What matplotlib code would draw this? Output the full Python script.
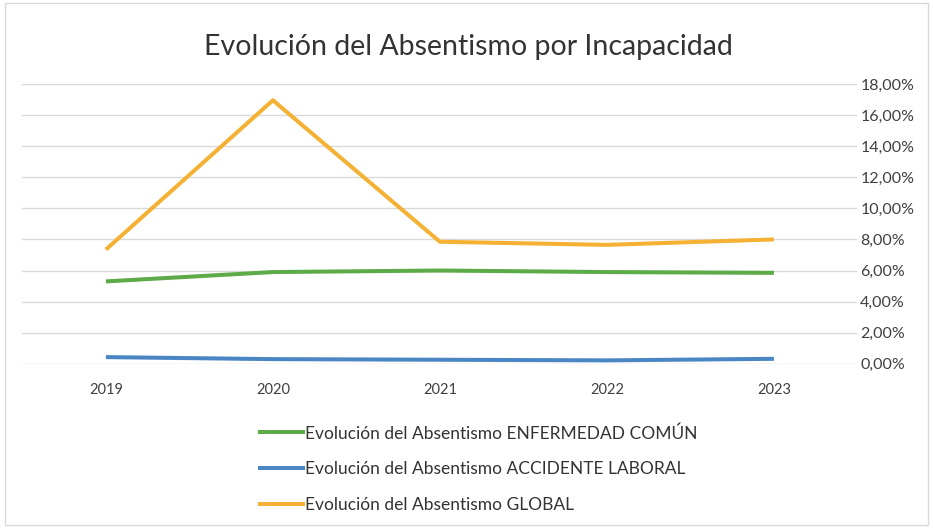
import matplotlib
matplotlib.use("Agg")
import matplotlib.pyplot as plt
from matplotlib.ticker import FuncFormatter, MultipleLocator
from matplotlib.patches import Rectangle

years = ["2019", "2020", "2021", "2022", "2023"]
enfermedad_comun = [5.3, 5.9, 6.0, 5.9, 5.85]
accidente_laboral = [0.43, 0.30, 0.26, 0.22, 0.32]
global_abs = [7.35, 16.95, 7.85, 7.65, 8.0]

series_labels = [
    "Evolución del Absentismo ENFERMEDAD COMÚN",
    "Evolución del Absentismo ACCIDENTE LABORAL",
    "Evolución del Absentismo GLOBAL",
]
colors = ["#5DAA48", "#4A86C4", "#F4B134"]

plt.rcParams["font.family"] = ["Lato", "DejaVu Sans"]

fig = plt.figure(figsize=(9.33, 5.28), dpi=100)
fig.patch.set_facecolor("white")
ax = fig.add_axes([0.024, 0.311, 0.895, 0.530])

x = list(range(len(years)))
for vals, lab, c in zip([enfermedad_comun, accidente_laboral, global_abs], series_labels, colors):
    ax.plot(x, vals, color=c, lw=2.9, label=lab, solid_capstyle="butt")

ax.set_xlim(-0.5, len(years) - 0.5)
ax.set_ylim(0, 18)
ax.yaxis.set_major_locator(MultipleLocator(2))
ax.yaxis.tick_right()
ax.yaxis.set_major_formatter(FuncFormatter(lambda v, p: f"{v:.2f}%".replace(".", ",")))
ax.set_xticks(x)
ax.set_xticklabels(years)
ax.tick_params(axis="y", length=0, pad=2, labelsize=11.5, labelcolor="#404040")
ax.tick_params(axis="x", length=0, pad=14, labelsize=10.5, labelcolor="#404040")
ax.grid(axis="y", color="#d9d9d9", lw=1.0)
ax.set_axisbelow(True)
for s in ax.spines.values():
    s.set_visible(False)

fig.text(0.502, 0.911, "Evolución del Absentismo por Incapacidad", ha="center", va="center",
         fontsize=20.5, color="#333333")

fig.legend(loc="upper left", bbox_to_anchor=(0.2765, 0.195), ncol=1, frameon=False,
           fontsize=12.5, handlelength=2.7, handletextpad=0.0, labelspacing=1.13,
           borderpad=0.0, borderaxespad=0.0, labelcolor="#333333")

fig.patches.append(Rectangle((0.005, 0.005), 0.99, 0.99, transform=fig.transFigure,
                             fill=False, edgecolor="#d9d9d9", lw=1.0))

fig.savefig("out.png", dpi=100, facecolor="white")
